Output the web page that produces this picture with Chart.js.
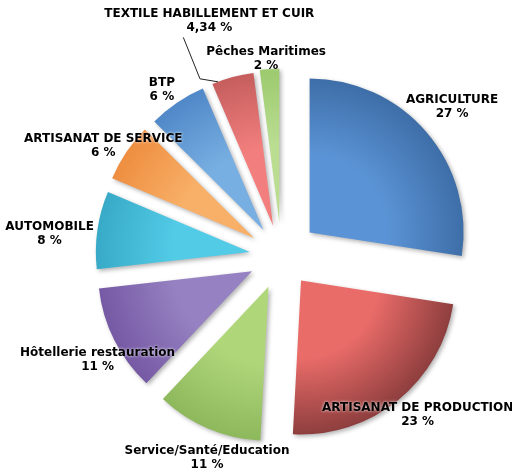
<!DOCTYPE html>
<html>
<head>
<meta charset="utf-8">
<script src="https://cdn.jsdelivr.net/npm/chart.js@4.4.1/dist/chart.umd.min.js"></script>
<style>
    html, body { margin: 0; padding: 0; background: #fff; }
    #wrap { width: 512px; height: 473px; position: relative; }
</style>
</head>
<body>
<div id="wrap"><canvas id="sectorPie"></canvas></div>
<script>
const sectors = [
    'AGRICULTURE',
    'ARTISANAT DE PRODUCTION',
    'Service/Santé/Education',
    'Hôtellerie restauration',
    'AUTOMOBILE',
    'ARTISANAT DE SERVICE',
    'BTP',
    'TEXTILE HABILLEMENT ET CUIR',
    'Pêches Maritimes'
];
const shares = [27, 23, 11, 11, 8, 6, 6, 4.34, 2];

// Slice shading: light near the tip, darker towards the rim
const innerColors = ['#5b94d6', '#ea6c69', '#b0d67a', '#9682c2', '#52cbe7', '#f8b068', '#78afe2', '#f27f7e', '#badd92'];
const outerColors = ['#3e6ea8', '#8e3e3e', '#8eb85c', '#7659a4', '#38aac7', '#ee8e40', '#5088c8', '#c65e5e', '#9cca6e'];

// How far each slice is pulled out of the pie (px)
const explode = [37, 31, 33, 33, 32, 33, 32, 32, 34];
// Label placement: distance from pie centre (px) and small angular turn (deg)
const labelDist = [227, 209, 215, 211, 233, 210, 205, 246, 198];
const labelTurn = [-0.7, -1.6, -2.9, -2.8, -2.7, -1.9, -1.5, -1.8, -0.8];
const PIE_RADIUS = 154;

function formatShare(v) {
    return String(v).replace('.', ',') + ' %';
}

function sliceGeom(chart, i) {
    const area = chart.chartArea;
    const cx = (area.left + area.right) / 2;
    const cy = (area.top + area.bottom) / 2;
    const total = shares.reduce((a, b) => a + b, 0);
    let before = 0;
    for (let k = 0; k < i; k++) before += shares[k];
    const start = -Math.PI / 2 + before / total * 2 * Math.PI;
    const end = start + shares[i] / total * 2 * Math.PI;
    const mid = (start + end) / 2;
    return {
        cx, cy, mid,
        ax: cx + Math.cos(mid) * explode[i],
        ay: cy + Math.sin(mid) * explode[i]
    };
}

function sliceFill(context) {
    const chart = context.chart;
    const i = context.dataIndex;
    if (!chart.chartArea || i === undefined) return innerColors[0];
    const g = sliceGeom(chart, i);
    const grad = chart.ctx.createRadialGradient(g.ax, g.ay, 0, g.ax, g.ay, PIE_RADIUS);
    grad.addColorStop(0, innerColors[i]);
    grad.addColorStop(0.5, innerColors[i]);
    grad.addColorStop(1, outerColors[i]);
    return grad;
}

const explodePlugin = {
    id: 'explodeSlices',
    beforeDatasetsDraw(chart) {
        const meta = chart.getDatasetMeta(0);
        meta.data.forEach((arc, i) => {
            const g = sliceGeom(chart, i);
            arc.x = g.ax;
            arc.y = g.ay;
        });
        const ctx = chart.ctx;
        ctx.save();
        ctx.shadowColor = 'rgba(0, 0, 0, 0.3)';
        ctx.shadowBlur = 4;
        ctx.shadowOffsetX = 2;
        ctx.shadowOffsetY = 2;
    },
    afterDatasetsDraw(chart) {
        const ctx = chart.ctx;
        ctx.restore();

        ctx.save();
        // leader line for the textile label
        const t = 7;
        const gt = sliceGeom(chart, t);
        const la = gt.mid + labelTurn[t] * Math.PI / 180;
        const lx = gt.cx + Math.cos(la) * labelDist[t];
        const ly = gt.cy + Math.sin(la) * labelDist[t];
        const ra = gt.mid - 5.7 * Math.PI / 180;
        const rx = gt.ax + Math.cos(ra) * PIE_RADIUS;
        const ry = gt.ay + Math.sin(ra) * PIE_RADIUS;
        ctx.strokeStyle = '#222';
        ctx.lineWidth = 1;
        ctx.beginPath();
        ctx.moveTo(lx - 26, ly + 16);
        ctx.lineTo(rx - 18, ry - 3);
        ctx.lineTo(rx, ry);
        ctx.stroke();

        ctx.font = 'bold 12px "DejaVu Sans", Verdana, sans-serif';
        ctx.textAlign = 'center';
        ctx.textBaseline = 'middle';
        ctx.fillStyle = '#000';
        ctx.shadowColor = 'rgba(255, 255, 255, 0.95)';
        ctx.shadowBlur = 3;
        sectors.forEach((name, i) => {
            const g = sliceGeom(chart, i);
            const a = g.mid + labelTurn[i] * Math.PI / 180;
            const x = g.cx + Math.cos(a) * labelDist[i];
            const y = g.cy + Math.sin(a) * labelDist[i];
            ctx.fillText(name, x, y - 7);
            ctx.fillText(formatShare(shares[i]), x, y + 7);
        });
        ctx.restore();
    }
};

new Chart(document.getElementById('sectorPie'), {
    type: 'pie',
    data: {
        labels: sectors,
        datasets: [{
            data: shares,
            backgroundColor: sliceFill,
            borderWidth: 0,
            radius: PIE_RADIUS
        }]
    },
    options: {
        responsive: true,
        maintainAspectRatio: false,
        animation: false,
        events: [],
        layout: { padding: { left: 51, top: 40, right: 0, bottom: 0 } },
        plugins: {
            legend: { display: false },
            tooltip: { enabled: false }
        }
    },
    plugins: [explodePlugin]
});
</script>
</body>
</html>
